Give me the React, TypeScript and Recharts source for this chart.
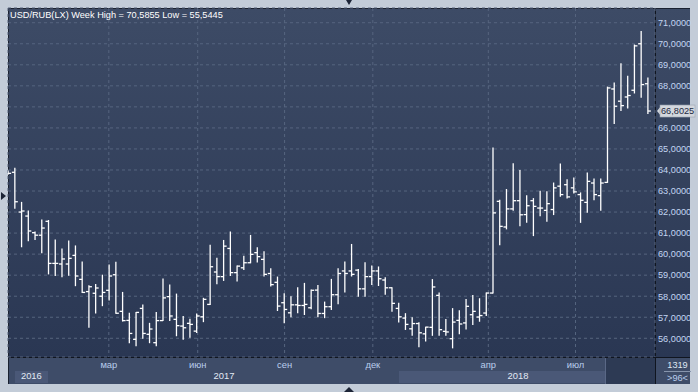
import React from 'react';
import { ComposedChart, Bar, XAxis, YAxis, CartesianGrid, ReferenceLine } from 'recharts';

const opens = [63.85, 63.89, 62.0, 61.81, 61.02, 60.9, 61.56, 59.56, 59.53, 59.53,
  59.94, 58.8, 58.22, 58.14, 58.0, 58.28, 59.02, 57.28, 56.85, 55.95,
  57.42, 56.19, 55.79, 56.84, 57.98, 56.9, 56.58, 56.71, 56.34, 57.02,
  57.61, 59.15, 58.93, 60.27, 59.12, 59.35, 59.59, 60.07, 59.75, 59.08,
  58.66, 57.69, 57.21, 57.59, 57.56, 57.45, 58.29, 57.18, 57.5, 58.07,
  59.2, 59.2, 59.24, 58.35, 58.93, 59.2, 58.77, 58.4, 57.42, 56.96,
  56.45, 56.7, 56.21, 56.52, 58.04, 56.33, 55.98, 56.85, 56.73, 57.12,
  57.01, 57.2, 58.15, 62.51, 61.29, 62.15, 62.54, 61.88, 62.54, 62.19,
  62.08, 62.12, 63.23, 63.3, 63.15, 62.83, 62.46, 63.38, 62.78, 63.41,
  67.85, 67.27, 67.47, 67.79, 70.0, 68.1];

const highs = [63.95, 64.08, 62.46, 62.05, 61.05, 61.62, 61.6, 60.67, 60.24, 60.62,
  60.39, 59.63, 58.5, 58.56, 59.0, 59.48, 59.61, 58.18, 57.19, 57.23,
  57.58, 56.71, 57.23, 58.82, 58.53, 58.1, 57.03, 56.9, 57.15, 57.9,
  60.42, 59.8, 60.65, 61.05, 59.43, 59.9, 60.89, 60.3, 60.11, 59.3,
  58.91, 58.12, 57.97, 58.4, 58.61, 58.3, 58.51, 57.72, 58.8, 59.31,
  59.62, 60.46, 59.27, 59.59, 59.43, 59.39, 58.88, 58.4, 57.66, 57.17,
  56.98, 56.74, 56.53, 58.79, 58.15, 56.89, 57.41, 57.31, 57.84, 58.03,
  57.88, 58.15, 65.05, 62.56, 63.07, 64.3, 63.97, 62.78, 62.64, 62.99,
  62.96, 63.38, 64.29, 63.54, 63.62, 62.91, 63.86, 63.57, 63.57, 67.94,
  68.13, 69.05, 68.45, 69.94, 70.5855, 68.37];

const lows = [63.8, 62.18, 60.35, 60.64, 60.7, 60.07, 59.06, 58.99, 58.93, 59.0,
  58.5, 58.18, 56.52, 57.2, 57.55, 57.82, 57.19, 56.82, 55.79, 55.65,
  56.0, 55.79, 55.65, 56.84, 56.84, 56.12, 55.95, 56.05, 56.27, 56.79,
  57.61, 58.59, 58.75, 58.99, 58.72, 59.27, 59.59, 59.62, 58.96, 58.48,
  57.32, 56.74, 57.02, 57.21, 57.13, 57.4, 57.02, 56.98, 57.37, 57.64,
  58.2, 58.96, 58.0, 58.0, 58.56, 58.51, 58.09, 57.29, 56.77, 56.42,
  56.14, 55.6, 55.87, 56.14, 56.14, 56.14, 55.5445, 56.22, 56.44, 56.65,
  56.81, 57.08, 58.15, 60.45, 61.2, 62.08, 61.35, 61.51, 60.88, 61.83,
  61.56, 61.88, 62.75, 62.67, 62.91, 61.51, 61.99, 62.59, 62.08, 63.41,
  66.21, 66.83, 66.95, 67.66, 67.46, 66.69];

const closes = [63.84, 62.49, 62.05, 61.1, 60.9, 61.24, 59.56, 59.56, 59.77, 59.8,
  58.96, 58.18, 58.45, 58.39, 58.18, 58.96, 57.19, 56.84, 56.23, 57.23,
  56.23, 56.44, 56.84, 57.92, 57.06, 56.6, 56.5, 56.66, 57.06, 57.85,
  59.4, 58.93, 60.38, 59.12, 59.43, 59.59, 59.99, 59.88, 59.04, 58.55,
  57.53, 57.37, 57.59, 57.56, 57.61, 58.28, 57.18, 57.5, 58.07, 59.08,
  59.08, 59.04, 58.35, 58.93, 59.2, 58.83, 58.4, 57.66, 57.02, 56.66,
  56.7, 56.26, 56.53, 58.44, 56.41, 56.3, 56.77, 56.68, 57.52, 57.28,
  57.08, 58.15, 61.96, 61.32, 62.15, 62.54, 61.87, 62.3, 62.27, 62.19,
  62.4, 63.15, 62.83, 62.72, 62.96, 62.56, 63.46, 62.83, 63.38, 67.9,
  67.03, 67.06, 67.54, 69.9, 68.06, 66.8025];

const monthTickPos = [14.9, 28.1, 41.0, 54.1, 71.25, 84.2];
const monthLabels = ['мар', 'июн', 'сен', 'дек', 'апр', 'июл'];
const yearTickPos = [3.4, 32.0, 75.65];
const yearLabels = ['2016', '2017', '2018'];
const priceTicks = [56, 57, 58, 59, 60, 61, 62, 63, 64, 65, 66, 67, 68, 69, 70, 71];
const lastPrice = 66.8025;
const weekHigh = 70.5855;
const weekLow = 55.5445;
const barCount = 1319;
const visibleBars = 96;

const data = opens.map((o, i) => ({
  i,
  o,
  h: highs[i],
  l: lows[i],
  c: closes[i],
  range: [lows[i], highs[i]],
}));

const fmt = (v: number) => v.toFixed(4).replace('.', ',');
const FONT = '"Liberation Sans", Arial, sans-serif';

const OhlcShape = (props: any) => {
  const { x, y, width, height, payload } = props;
  if (x == null || y == null || !payload) return null;
  const cx = x + width / 2;
  const top = Math.min(y, y + height);
  const bot = Math.max(y, y + height);
  const span = payload.h - payload.l;
  const toY = (v: number) => (span > 0 ? top + ((payload.h - v) / span) * (bot - top) : top);
  const yo = toY(payload.o);
  const yc = toY(payload.c);
  return (
    <g stroke="#ffffff" strokeWidth={1.3}>
      <line x1={cx} x2={cx} y1={top - 0.5} y2={bot + 0.5} />
      <line x1={cx - 3} x2={cx} y1={yo} y2={yo} />
      <line x1={cx} x2={cx + 3} y1={yc} y2={yc} />
    </g>
  );
};

const PriceLabel = (props: any) => {
  const vb = props.viewBox || {};
  const x = (vb.x || 0) + (vb.width || 0);
  const y = vb.y || 0;
  return (
    <g>
      <polygon points={`${x + 2},${y} ${x + 6},${y - 5} ${x + 6},${y + 5}`} fill="#d3d7dd" />
      <rect x={x + 5} y={y - 6} width={35} height={12} fill="#d3d7dd" stroke="#9aa3b2" strokeWidth={0.6} />
      <text x={x + 6} y={y + 3.3} fontSize={9.2} fontFamily={FONT} fill="#1d2942">{fmt(lastPrice)}</text>
    </g>
  );
};

const YTick = (props: any) => {
  const { x, y, payload } = props;
  if (Math.abs(payload.value - lastPrice) < 0.5) return <g />;
  return (
    <text x={x} y={y + 3.3} fontSize={9.2} fontFamily={FONT} fill="#c3d5f2" textAnchor="start">
      {fmt(payload.value)}
    </text>
  );
};

const abs = (l: number, t: number, w: number, h: number, bg: string): React.CSSProperties => ({
  position: 'absolute', left: l, top: t, width: w, height: h, background: bg,
});

export default function App() {
  return (
    <div style={{ position: 'absolute', left: 0, top: 0, width: 698, height: 392, background: '#c3ccd8', overflow: 'hidden' }}>
      <div style={abs(8, 8, 682, 349, 'linear-gradient(to bottom, #3d4b66, #2a3753)')} />
      <div style={abs(8, 357, 682, 27, '#3e4c68')} />
      <div style={abs(15, 371, 33, 12, '#4a5877')} />
      <div style={abs(399, 371, 207, 12, '#4a5877')} />
      <div style={abs(606, 358, 49, 26, '#2d3a54')} />
      <div style={abs(605, 358, 1, 26, '#5a6886')} />
      <div style={abs(8, 357, 682, 1, '#10151f')} />
      <div style={abs(655, 8, 1, 376, '#10151f')} />
      <div style={abs(8, 8, 1, 376, '#1a2130')} />
      <div style={abs(8, 8, 682, 1, '#1a2130')} />
      <div style={abs(664, 371, 27, 1, '#8795ad')} />
      <div style={{ position: 'absolute', left: 346, top: 0, width: 0, height: 0, borderLeft: '3.5px solid transparent', borderRight: '3.5px solid transparent', borderTop: '5px solid #1c2436' }} />
      <div style={{ position: 'absolute', left: 344, top: 387, width: 0, height: 0, borderLeft: '5px solid transparent', borderRight: '5px solid transparent', borderBottom: '5px solid #1c2436' }} />
      <div style={{ position: 'absolute', left: 1, top: 192, width: 0, height: 0, borderTop: '4.5px solid transparent', borderBottom: '4.5px solid transparent', borderLeft: '5px solid #1c2436' }} />
      <div style={{ position: 'absolute', left: 0, top: 0 }}>
        <ComposedChart width={698} height={392} data={data} margin={{ top: 8, right: 8, bottom: 8, left: 8 }}>
          <CartesianGrid stroke="#56657f" strokeDasharray="3 3" />
          <XAxis
            xAxisId={0}
            dataKey="i"
            type="number"
            domain={[-0.07, 96]}
            allowDataOverflow
            ticks={monthTickPos}
            interval={0}
            tickFormatter={(v: number, idx: number) => monthLabels[idx]}
            height={13}
            axisLine={false}
            tickLine={false}
            tickSize={0}
            tickMargin={4}
            tick={{ fill: '#b9cdec', fontSize: 9.4, fontFamily: FONT }}
          />
          <XAxis
            xAxisId="yr"
            dataKey="i"
            type="number"
            domain={[-0.07, 96]}
            allowDataOverflow
            ticks={yearTickPos}
            interval={0}
            tickFormatter={(v: number, idx: number) => yearLabels[idx]}
            height={14}
            axisLine={false}
            tickLine={false}
            tickSize={0}
            tickMargin={2}
            tick={{ fill: '#e2e9f4', fontSize: 9.4, fontFamily: FONT }}
          />
          <YAxis
            orientation="right"
            type="number"
            domain={[55.11, 71.7]}
            allowDataOverflow
            ticks={priceTicks}
            interval={0}
            width={35}
            axisLine={false}
            tickLine={false}
            tickSize={0}
            tickMargin={3}
            tick={<YTick />}
          />
          <Bar dataKey="range" xAxisId={0} barSize={6} shape={<OhlcShape />} isAnimationActive={false} />
          <ReferenceLine y={lastPrice} xAxisId={0} stroke="none" label={<PriceLabel />} ifOverflow="visible" />
        </ComposedChart>
      </div>
      <svg width={698} height={392} style={{ position: 'absolute', left: 0, top: 0, pointerEvents: 'none' }}>
        <text x={10} y={18.3} fontSize={9.2} fontFamily={FONT} fill="#ffffff">
          {`USD/RUB(LX) Week High = ${fmt(weekHigh)} Low = ${fmt(weekLow)}`}
        </text>
        <text x={677.5} y={368} fontSize={9.2} fontFamily={FONT} fill="#dfe7f3" textAnchor="middle">{barCount}</text>
        <text x={677.5} y={381} fontSize={9.2} fontFamily={FONT} fill="#b9cdec" textAnchor="middle">{`>${visibleBars}<`}</text>
      </svg>
    </div>
  );
}
